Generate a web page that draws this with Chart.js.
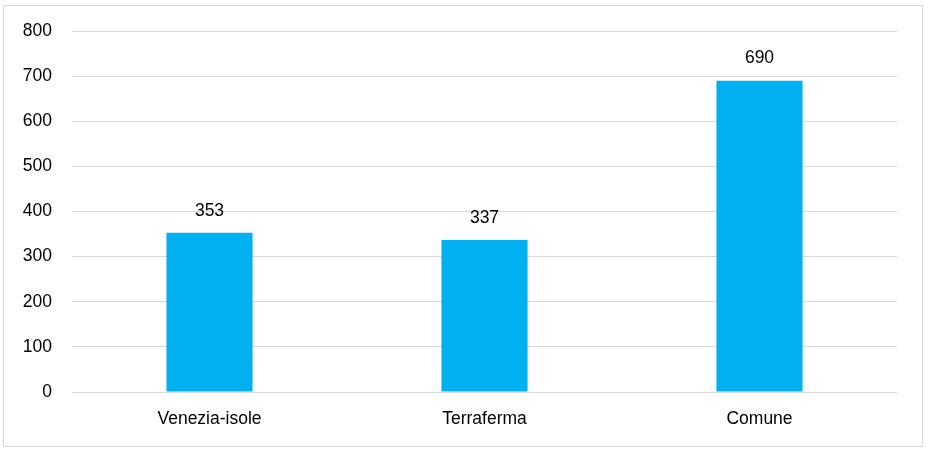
<!DOCTYPE html>
<html>
<head>
<meta charset="utf-8">
<script src="https://cdn.jsdelivr.net/npm/chart.js@4"></script>
<style>
  html, body { margin: 0; padding: 0; background: #fff; }
  #frame { position: absolute; left: 3px; top: 5px; width: 918px; height: 440px; border: 1px solid #d9d9d9; }
  #wrap { position: absolute; left: 0; top: 0; width: 929px; height: 452px; }
</style>
</head>
<body>
<div id="frame"></div>
<div id="wrap"><canvas id="myChart" width="929" height="452"></canvas></div>
<script>
// --- Données ---
const categories = ['Venezia-isole', 'Terraferma', 'Comune'];
const valeurs = [353, 337, 690];
const yTicks = [0, 100, 200, 300, 400, 500, 600, 700, 800];

const police = "'Liberation Sans', Arial, sans-serif";
const taille = 17.5;

// étiquettes au-dessus des barres
const etiquettes = {
    id: 'etiquettes',
    afterDatasetsDraw(chart) {
        const ctx = chart.ctx;
        const meta = chart.getDatasetMeta(0);
        ctx.save();
        ctx.font = taille + 'px ' + police;
        ctx.fillStyle = '#000';
        ctx.textAlign = 'center';
        ctx.textBaseline = 'middle';
        meta.data.forEach((bar, i) => {
            ctx.fillText(String(chart.data.datasets[0].data[i]), bar.x, bar.y - 22);
        });
        ctx.restore();
    }
};

new Chart(document.getElementById('myChart'), {
    type: 'bar',
    data: {
        labels: categories,
        datasets: [{
            data: valeurs,
            backgroundColor: '#00B0F0',
            barPercentage: 1,
            categoryPercentage: 0.313
        }]
    },
    options: {
        responsive: false,
        animation: false,
        layout: { padding: { top: 31, right: 32, left: 0, bottom: 0 } },
        plugins: { legend: { display: false }, tooltip: { enabled: false } },
        scales: {
            x: {
                grid: { display: false },
                border: { display: false },
                ticks: { color: '#000', font: { family: police, size: taille }, padding: 9 },
                afterFit(scale) { scale.height = 60; }
            },
            y: {
                min: 0,
                max: 800,
                afterBuildTicks(scale) { scale.ticks = yTicks.map(v => ({ value: v })); },
                grid: { color: '#d9d9d9', lineWidth: 1, drawTicks: false },
                border: { display: false },
                ticks: { color: '#000', font: { family: police, size: taille }, padding: 20 },
                afterFit(scale) { scale.width = 72; }
            }
        }
    },
    plugins: [etiquettes]
});
</script>
</body>
</html>
